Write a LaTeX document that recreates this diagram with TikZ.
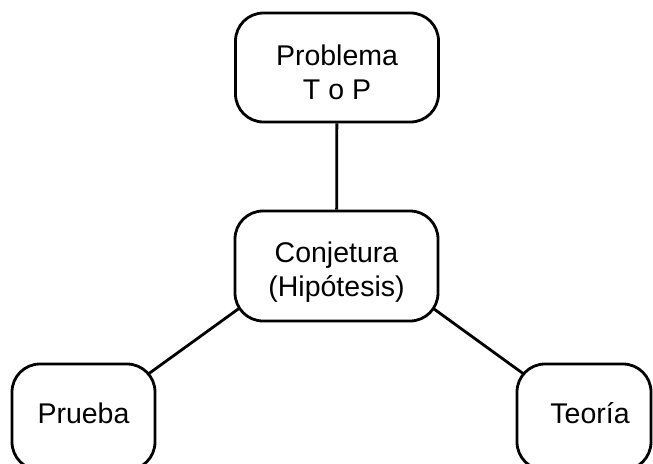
\documentclass[tikz,border=0pt]{standalone}
\usepackage{fontspec}
\setmainfont{Liberation Sans}
\usetikzlibrary{backgrounds,calc}

\newcommand{\alto}[1]{\rule{0pt}{#1}}   % invisible strut to push text down

\begin{document}
\begin{tikzpicture}[x=1pt,y=-1pt,
    caja/.style={draw=black,line width=2.8pt,rounded corners=28pt,fill=white,
                 align=center,inner sep=0pt,font=\fontsize{28.5}{34}\selectfont},
    enlace/.style={draw=black,line width=2.8pt}]
  \pgfmathsetmacro\cajah{109}   % height of every box
  \useasboundingbox (0,0) rectangle (653,463);

% boxes
  \node[caja,minimum width=203pt,minimum height=\cajah pt] (problema) at (337,67.5) {\alto{29.5pt}Problema\\T o P};
  \node[caja,minimum width=203pt,minimum height=110pt] (conjetura) at (336.5,266) {\alto{32pt}Conjetura\\(Hipótesis)};
  \node[caja,minimum width=143pt,minimum height=106pt,text depth=8pt] (prueba) at (83.5,417) {Prueba};
  \node[caja,minimum width=134pt,minimum height=106pt,text depth=8pt] (teoria) at (584,417) {\hspace*{12pt}Teoría};

% links, behind the boxes
  \begin{scope}[on background layer]
    \draw[enlace] (problema) -- (conjetura);
    \draw[enlace] ($(conjetura.south west)+(20,-24.5)$) -- ($(prueba.north east)+(-20,20)$);
    \draw[enlace] ($(conjetura.south east)+(-20,-24)$) -- ($(teoria.north west)+(20,20)$);
  \end{scope}
\end{tikzpicture}
\end{document}
